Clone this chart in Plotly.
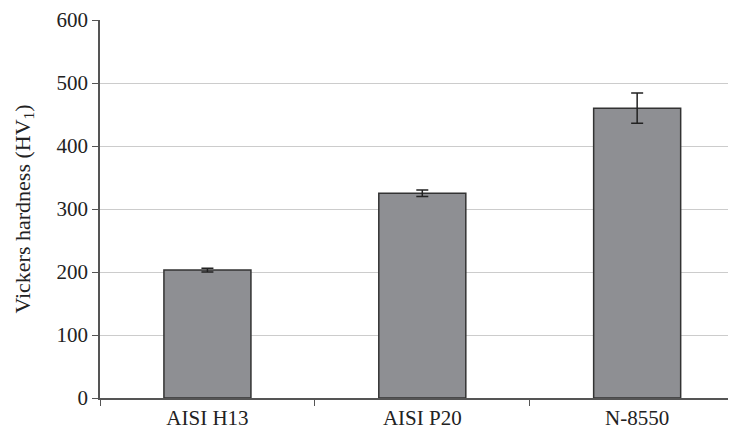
import plotly.graph_objects as go

categories = ["AISI H13", "AISI P20", "N-8550"]
hardness = [203, 325, 460]
errors = [3, 5, 24]
y_ticks = [0, 100, 200, 300, 400, 500, 600]

fig = go.Figure()
fig.add_trace(go.Bar(
    x=categories,
    y=hardness,
    width=0.405,
    marker=dict(color="#8e8f93", line=dict(color="#333333", width=1.5)),
    error_y=dict(type="data", array=errors, visible=True, color="#222222", thickness=1.5, width=6),
    showlegend=False,
))

fig.update_layout(
    width=728, height=427,
    margin=dict(l=92, r=0, t=12, b=37, autoexpand=False),
    paper_bgcolor="white", plot_bgcolor="white",
    font=dict(family="Liberation Serif, Times New Roman, serif", size=21, color="#222222"),
    xaxis=dict(
        range=[-0.5, 2.46], automargin=False,
        showline=True, linecolor="#555555", linewidth=1.5,
        ticks="outside", tickson="boundaries", ticklen=6, tickcolor="#555555",
        showgrid=False, tickfont=dict(size=21),
    ),
    yaxis=dict(
        range=[0, 600], tickvals=y_ticks, automargin=False,
        showline=True, linecolor="#555555", linewidth=1.5,
        ticks="outside", ticklen=6, tickcolor="#555555",
        showgrid=True, gridcolor="#cccccc", gridwidth=1,
        zeroline=False,
        tickfont=dict(size=21),
        title=dict(text="Vickers hardness (HV<sub>1</sub>)", font=dict(size=22), standoff=20),
    ),
)

fig.write_html("out.html")
